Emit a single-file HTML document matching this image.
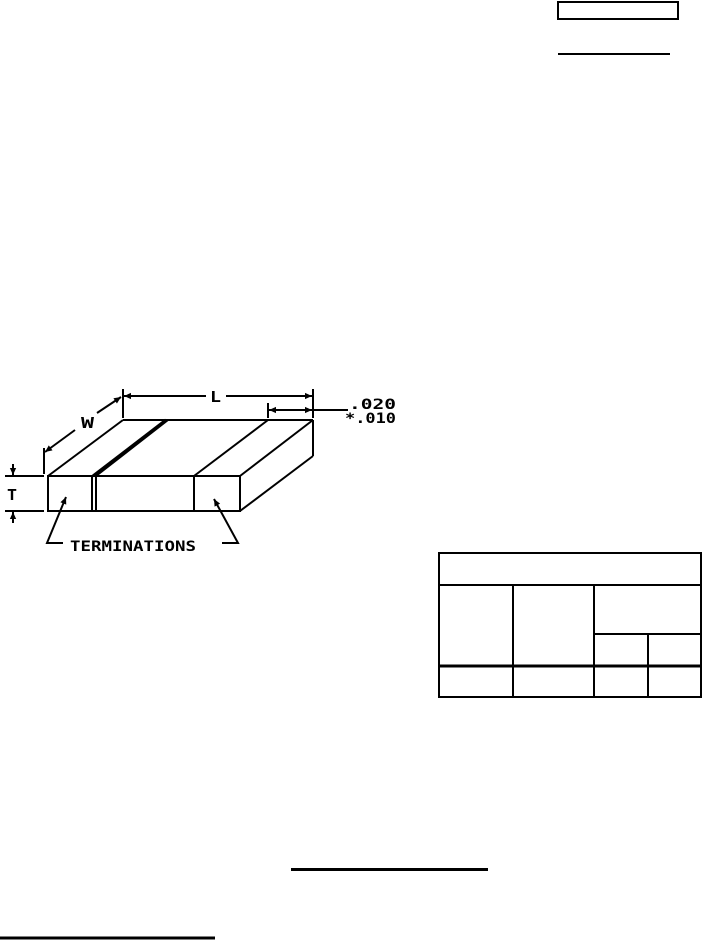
<!DOCTYPE html>
<html><head><meta charset="utf-8"><style>
html,body{margin:0;padding:0;background:#fff;}
svg{display:block;}
text{font-family:"DejaVu Sans Mono","Liberation Mono",monospace;font-weight:bold;fill:#000;}
</style></head><body>
<svg width="703" height="940" viewBox="0 0 703 940" xmlns="http://www.w3.org/2000/svg">
<defs>
<marker id="a" viewBox="0 0 10 10" refX="10" refY="5" markerWidth="10" markerHeight="7" orient="auto-start-reverse" markerUnits="userSpaceOnUse"><path d="M0,0.5 L10,5 L0,9.5 z" fill="#000"/></marker>
</defs>
<g stroke="#000" fill="none">
<rect x="558" y="2" width="120" height="17" stroke-width="2"/>
<line x1="558" y1="54" x2="670" y2="54" stroke-width="2"/>
<line x1="291" y1="869.5" x2="488" y2="869.5" stroke-width="3"/>
<line x1="0" y1="938" x2="215" y2="938" stroke-width="3"/>

<g stroke-width="2">
<rect x="48" y="476" width="192" height="35"/>
<line x1="92" y1="476" x2="92" y2="511"/>
<line x1="96" y1="476" x2="96" y2="511"/>
<line x1="194" y1="476" x2="194" y2="511"/>
<line x1="48" y1="476" x2="123" y2="420"/>
<line x1="123" y1="420" x2="313" y2="420"/>
<line x1="240" y1="476" x2="313" y2="420"/>
<line x1="240" y1="511" x2="313" y2="456"/>
<line x1="313" y1="420" x2="313" y2="456"/>
<line x1="194" y1="476" x2="268" y2="420"/>
<line x1="96" y1="476" x2="168" y2="420"/>
</g>
<line x1="93" y1="476" x2="166" y2="420" stroke-width="3"/>

<g stroke-width="2">
<line x1="123" y1="389" x2="123" y2="418"/>
<line x1="313" y1="389" x2="313" y2="418"/>
<line x1="124" y1="396" x2="206" y2="396" marker-start="url(#a)"/>
<line x1="226" y1="396" x2="312" y2="396" marker-end="url(#a)"/>
<line x1="268" y1="403" x2="268" y2="418"/>
<line x1="269" y1="410" x2="312" y2="410" marker-start="url(#a)" marker-end="url(#a)"/>
<line x1="313" y1="410" x2="348" y2="410"/>
<line x1="44" y1="448" x2="44" y2="474"/>
<line x1="45" y1="452" x2="75" y2="430" marker-start="url(#a)"/>
<line x1="97" y1="413" x2="121" y2="397" marker-end="url(#a)"/>
<line x1="5" y1="476" x2="44" y2="476"/>
<line x1="5" y1="511" x2="44" y2="511"/>
<line x1="13" y1="464" x2="13" y2="475" marker-end="url(#a)"/>
<line x1="13" y1="523" x2="13" y2="512" marker-end="url(#a)"/>
<polyline points="63,543 47,543 66,497" marker-end="url(#a)"/>
<polyline points="222,543 238,543 214,499" marker-end="url(#a)"/>
</g>

<g stroke-width="2">
<rect x="439" y="553" width="262" height="144"/>
<line x1="439" y1="585" x2="701" y2="585"/>
<line x1="594" y1="634" x2="701" y2="634"/>
<line x1="439" y1="666" x2="701" y2="666" stroke-width="3"/>
<line x1="513" y1="585" x2="513" y2="697"/>
<line x1="594" y1="585" x2="594" y2="697"/>
<line x1="648" y1="634" x2="648" y2="697"/>
</g>
</g>
<text x="210" y="402" font-size="15" textLength="11" lengthAdjust="spacingAndGlyphs">L</text>
<text x="349" y="409" font-size="14" textLength="47" lengthAdjust="spacingAndGlyphs">.020</text>
<text x="345" y="423" font-size="14" textLength="51" lengthAdjust="spacingAndGlyphs">*.010</text>
<text x="81" y="428" font-size="15" textLength="13" lengthAdjust="spacingAndGlyphs">W</text>
<text x="7" y="500" font-size="15" textLength="10" lengthAdjust="spacingAndGlyphs">T</text>
<text x="70" y="551" font-size="14" textLength="126" lengthAdjust="spacingAndGlyphs">TERMINATIONS</text>
</svg>
</body></html>
